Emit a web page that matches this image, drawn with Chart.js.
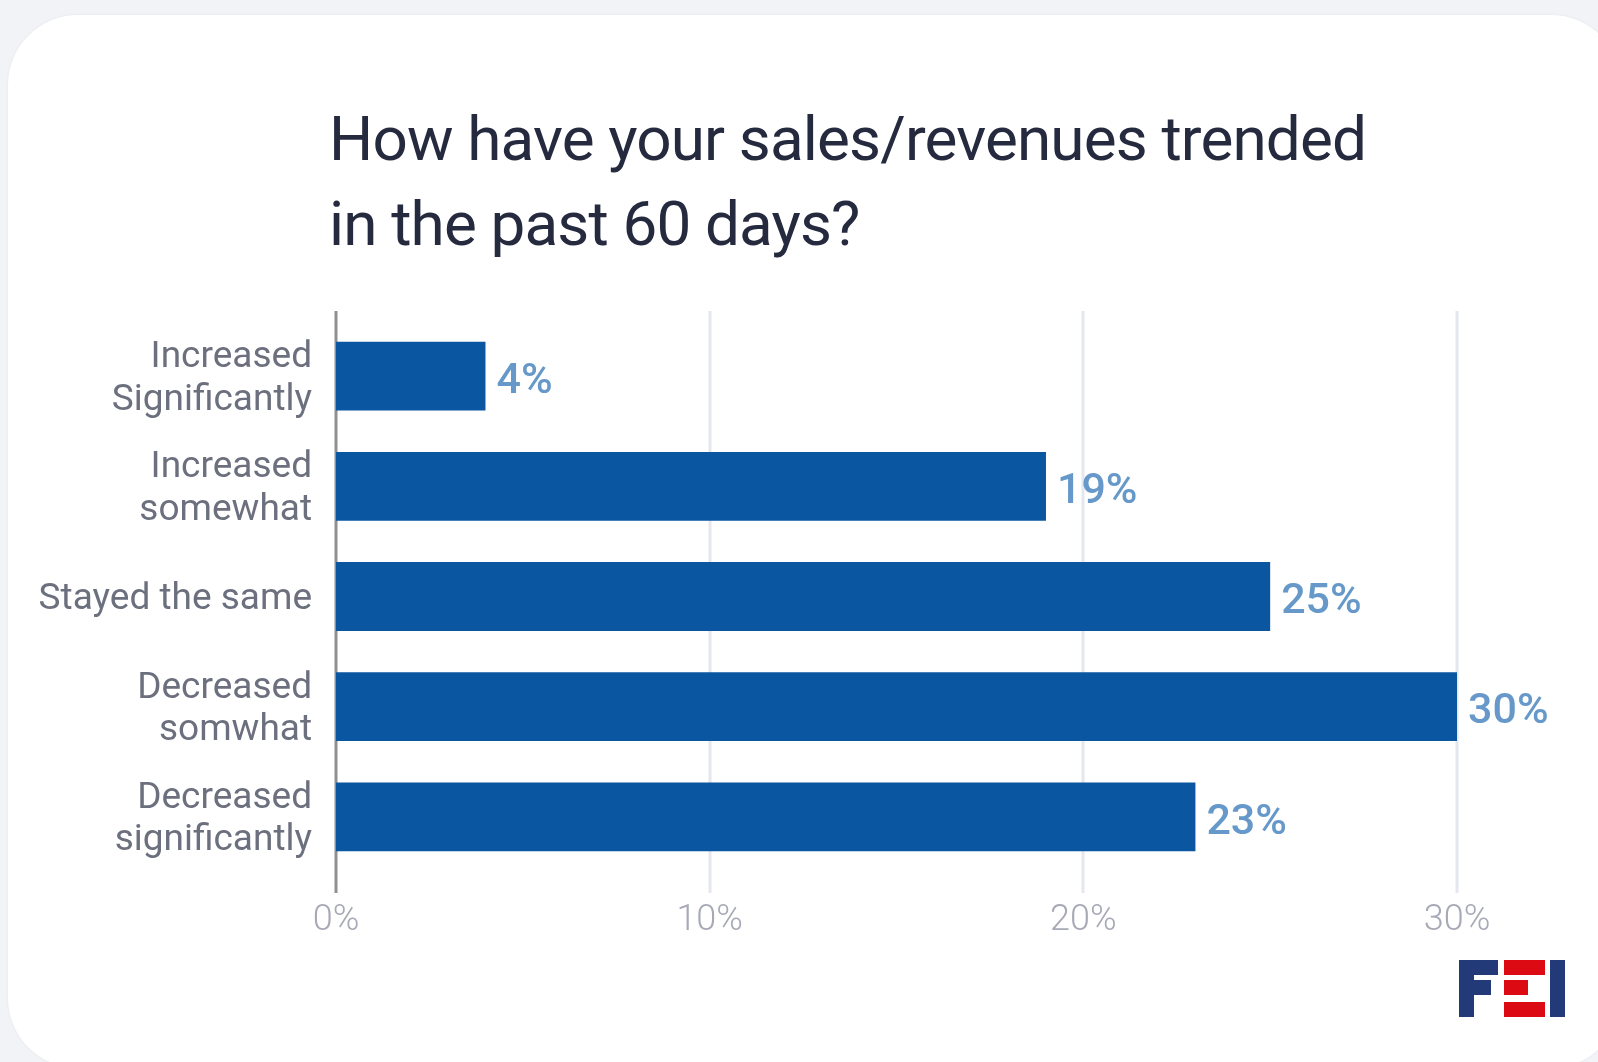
<!DOCTYPE html>
<html>
<head>
<meta charset="utf-8">
<title>Sales / revenues trend</title>
<script src="https://cdn.jsdelivr.net/npm/chart.js@4/dist/chart.umd.min.js"></script>
<style>
    html, body {
        margin: 0;
        padding: 0;
        width: 1598px;
        height: 1062px;
        overflow: hidden;
        background: #f2f3f6;
        font-family: Roboto, "Noto Sans", sans-serif;
    }
    .card {
        position: absolute;
        left: 8px;
        top: 15px;
        width: 1613px;
        height: 1053px;
        background: #ffffff;
        border-radius: 70px;
        box-shadow: 0 0 3px rgba(0, 0, 0, 0.06);
    }
    .title {
        position: absolute;
        left: 329px;
        top: 96px;
        margin: 0;
        font-size: 62px;
        line-height: 85px;
        font-weight: 400;
        letter-spacing: -0.85px;
        color: #252a3f;
        white-space: nowrap;
    }
    #trend-chart {
        position: absolute;
        left: 0;
        top: 0;
    }
    .logo {
        position: absolute;
        left: 1459px;
        top: 960px;
    }
</style>
</head>
<body>
<div class="card"></div>
<h1 class="title">How have your sales/revenues trended<br>in the past 60 days?</h1>
<canvas id="trend-chart" width="1598" height="1062"></canvas>
<svg class="logo" width="107" height="57" viewBox="0 0 107 57">
    <!-- F -->
    <rect x="0" y="0" width="15" height="57" fill="#233a78"/>
    <rect x="0" y="0" width="39" height="15" fill="#233a78"/>
    <rect x="0" y="20" width="32" height="15" fill="#233a78"/>
    <!-- E -->
    <rect x="45" y="0" width="41" height="15" fill="#dc0a12"/>
    <rect x="45" y="20" width="24" height="15" fill="#dc0a12"/>
    <rect x="45" y="42" width="41" height="15" fill="#dc0a12"/>
    <!-- I -->
    <rect x="91" y="0" width="15" height="57" fill="#233a78"/>
</svg>

<script>
// ====== DATA ======
const categories = [
    ['Increased', 'Significantly'],
    ['Increased', 'somewhat'],
    'Stayed the same',
    ['Decreased', 'somwhat'],
    ['Decreased', 'significantly']
];
const shares = [4, 19, 25, 30, 23];     // percent of respondents
const xTicks = [0, 10, 20, 30];

// ====== COLORS ======
const BAR_COLOR = '#0a56a0';
const VALUE_COLOR = '#6699c9';
const CATEGORY_COLOR = '#6c707e';
const TICK_COLOR = '#a7a9b6';
const GRID_COLOR = '#e4e7ef';
const AXIS_COLOR = '#8f8f94';

// vertical grid + zero axis, drawn a bit past the plot area (above and below)
const gridLinesPlugin = {
    id: 'gridLines',
    beforeDatasetsDraw(chart) {
        const {ctx, chartArea, scales} = chart;
        ctx.save();
        xTicks.forEach((v, i) => {
            const x = Math.round(scales.x.getPixelForValue(v));
            ctx.beginPath();
            ctx.lineWidth = 3;
            ctx.strokeStyle = i === 0 ? AXIS_COLOR : GRID_COLOR;
            ctx.moveTo(x, chartArea.top - 10);
            ctx.lineTo(x, chartArea.bottom + 21);
            ctx.stroke();
        });
        ctx.restore();
    }
};

// "4%", "19%" ... at the end of every bar
const valueLabelsPlugin = {
    id: 'valueLabels',
    afterDatasetsDraw(chart) {
        const {ctx} = chart;
        const meta = chart.getDatasetMeta(0);
        ctx.save();
        ctx.font = '500 43px Roboto';
        ctx.fillStyle = VALUE_COLOR;
        ctx.textAlign = 'left';
        ctx.textBaseline = 'middle';
        meta.data.forEach((bar, i) => {
            ctx.fillText(shares[i] + '%', bar.x + 11, bar.y + 6);
        });
        ctx.restore();
    }
};

const chart = new Chart(document.getElementById('trend-chart'), {
    type: 'bar',
    data: {
        labels: categories,
        datasets: [{
            data: shares,
            backgroundColor: BAR_COLOR,
            borderWidth: 0,
            categoryPercentage: 1,
            barPercentage: 0.624
        }]
    },
    options: {
        indexAxis: 'y',
        responsive: false,
        animation: false,
        devicePixelRatio: 1,
        layout: {
            padding: {top: 321, right: 141, bottom: 0, left: 0}
        },
        plugins: {
            legend: {display: false},
            tooltip: {enabled: false}
        },
        scales: {
            x: {
                min: 0,
                max: 30,
                afterFit: scale => { scale.height = 190; },
                grid: {display: false},
                border: {display: false},
                ticks: {
                    stepSize: 10,
                    padding: 19,
                    color: TICK_COLOR,
                    font: {family: 'Roboto', size: 36, weight: 300},
                    callback: v => v + '%'
                }
            },
            y: {
                afterFit: scale => { scale.width = 336; },
                grid: {display: false},
                border: {display: false},
                ticks: {
                    padding: 16,
                    labelOffset: 3,
                    color: CATEGORY_COLOR,
                    font: {family: 'Roboto', size: 37, lineHeight: 1.15}
                }
            }
        }
    },
    plugins: [gridLinesPlugin, valueLabelsPlugin]
});
</script>
</body>
</html>
